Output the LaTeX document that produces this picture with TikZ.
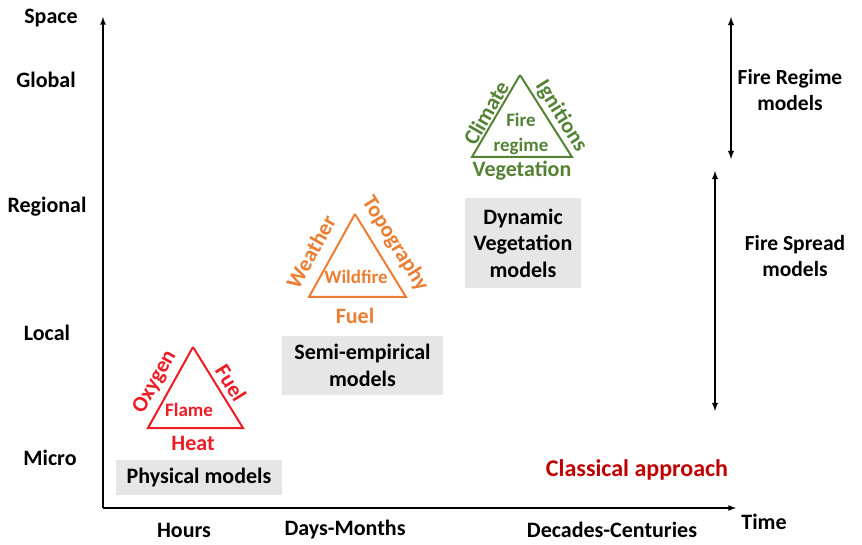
\documentclass[tikz,border=0pt]{standalone}
\usepackage{fontspec}
\setmainfont{Carlito}
\definecolor{flamered}{HTML}{EE1C25}
\definecolor{fireorange}{HTML}{ED7D31}
\definecolor{regimegreen}{HTML}{548235}
\definecolor{classicred}{HTML}{C00000}
\definecolor{boxgray}{HTML}{E6E6E6}
\tikzset{
  lab/.style={font=\fontsize{22}{26}\selectfont\bfseries, inner sep=0pt},
  inner/.style={font=\fontsize{19}{25}\selectfont\bfseries, inner sep=0pt, align=center},
  modelbox/.style={fill=boxgray, font=\fontsize{22}{26.5}\selectfont\bfseries, align=center, inner sep=0pt},
  sidelab/.style={font=\fontsize{21.5}{26}\selectfont\bfseries, inner sep=0pt, align=center},
}
\begin{document}
\begin{tikzpicture}[x=1pt,y=1pt]
        \useasboundingbox (0,0) rectangle (862,544);
        % axes
        \coordinate (o) at (103,36);
        \coordinate (ytop) at (103,527);
        \coordinate (xend) at (736,36);
        \draw [line width=1.6pt,-latex] (o) to (ytop);
        \draw [line width=1.6pt,-latex] (o) to (xend);
        \node [lab] (space) at (51,526) {Space};
        \node [lab] (global) at (46,464) {Global};
        \node [lab] (regional) at (47,337) {Regional};
        \node [lab] (local) at (47,211) {Local};
        \node [lab] (micro) at (50,86) {Micro};
        \node [lab] (hours) at (184,14) {Hours};
        \node [lab] (days) at (345,14) {Days-Months};
        \node [lab] (decades) at (612,14) {Decades-Centuries};
        \node [lab] (time) at (764,22) {Time};
        % flame triangle
        \coordinate (fa) at (193,197);
        \coordinate (fb) at (148,116);
        \coordinate (fc) at (243,116);
        \draw [line width=2pt,flamered] (fa) to (fb) to (fc) to (fa);
        \node [inner,flamered] (flame) at (189,134) {Flame};
        \node [lab,flamered,rotate=61] (oxygen) at (155,162) {Oxygen};
        \node [lab,flamered,rotate=-58] (fuelA) at (231,161) {Fuel};
        \node [lab,flamered] (heat) at (193,101) {Heat};
        \node [modelbox,minimum width=166,minimum height=35] (physical) at (199,66.5) {Physical models};
        % wildfire triangle
        \coordinate (wa) at (355,330);
        \coordinate (wb) at (309,247);
        \coordinate (wc) at (406,247);
        \draw [line width=2pt,fireorange] (wa) to (wb) to (wc) to (wa);
        \node [inner,fireorange] (wildfire) at (356,267) {Wildfire};
        \node [lab,fireorange,rotate=61] (weather) at (311,292) {Weather};
        \node [lab,fireorange,rotate=-58] (topo) at (395,300) {Topography};
        \node [lab,fireorange] (fuelB) at (355,228) {Fuel};
        \node [modelbox,minimum width=161,minimum height=59] (semi) at (362.5,178.5) {Semi-empirical\\models};
        % fire regime triangle
        \coordinate (ga) at (520,469);
        \coordinate (gb) at (472,387);
        \coordinate (gc) at (572,387);
        \draw [line width=2pt,regimegreen] (ga) to (gb) to (gc) to (ga);
        \node [inner,regimegreen] (regime) at (521,410) {Fire\\regime};
        \node [lab,regimegreen,rotate=60] (climate) at (486,431) {Climate};
        \node [lab,regimegreen,rotate=-58] (ignitions) at (561,428) {Ignitions};
        \node [lab,regimegreen] (vegetation) at (522,373) {Vegetation};
        \node [modelbox,minimum width=116,minimum height=90] (dynamic) at (523,301) {Dynamic\\Vegetation\\models};
        % scale arrows
        \coordinate (r1) at (731,527);
        \coordinate (r2) at (731,385);
        \coordinate (s1) at (715,373);
        \coordinate (s2) at (715,133);
        \draw [line width=1.8pt,latex-latex] (r1) to (r2);
        \draw [line width=1.8pt,latex-latex] (s1) to (s2);
        \node [sidelab] (regimemodels) at (790,453.5) {Fire Regime\\models};
        \node [sidelab] (spreadmodels) at (795,288) {Fire Spread\\models};
        \node [lab,classicred,font=\fontsize{24}{28}\selectfont\bfseries] (classical) at (637,74) {Classical approach};
      \end{tikzpicture}
\end{document}
